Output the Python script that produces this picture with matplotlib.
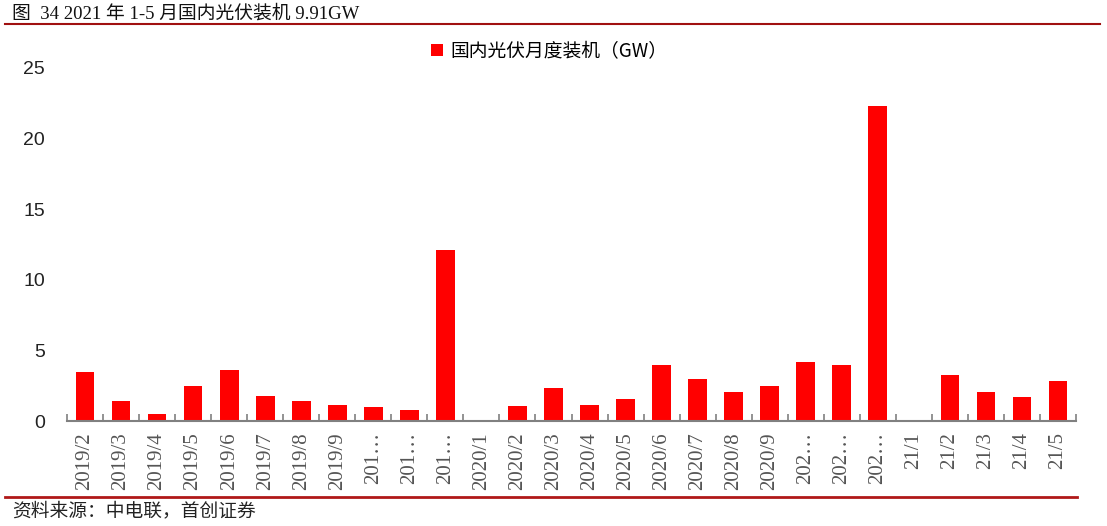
import matplotlib.pyplot as plt
import numpy as np

# monthly domestic PV installs (GW)
months = ["2019/2", "2019/3", "2019/4", "2019/5", "2019/6", "2019/7", "2019/8", "2019/9",
          "2019/10", "2019/11", "2019/12",
          "2020/1", "2020/2", "2020/3", "2020/4", "2020/5", "2020/6", "2020/7", "2020/8",
          "2020/9", "2020/10", "2020/11", "2020/12",
          "2021/1", "2021/2", "2021/3", "2021/4", "2021/5"]
installs = [3.5, 1.4, 0.5, 2.5, 3.6, 1.8, 1.45, 1.15,
            1.0, 0.8, 12.1,
            0.0, 1.05, 2.35, 1.1, 1.55, 4.0, 2.95, 2.05,
            2.5, 4.2, 4.0, 22.3,
            0.0, 3.25, 2.05, 1.7, 2.8]
# labels as they appear in the chart (long ones cut off, 2021 partly hidden)
tick_labels = ["2019/2", "2019/3", "2019/4", "2019/5", "2019/6", "2019/7", "2019/8", "2019/9",
               "201…", "201…", "201…",
               "2020/1", "2020/2", "2020/3", "2020/4", "2020/5", "2020/6", "2020/7", "2020/8",
               "2020/9", "202…", "202…", "202…",
               "21/1", "21/2", "21/3", "21/4", "21/5"]

cjk = ["Noto Sans CJK SC", "DejaVu Sans"]
serif_cjk = ["Liberation Serif", "Noto Sans CJK SC"]

fig = plt.figure(figsize=(11.07, 5.26), dpi=100)
ax = fig.add_axes([67 / 1107, 1 - 421 / 526, (1076 - 67) / 1107, (421 - 68) / 526])

x = np.arange(len(months))
ax.bar(x, installs, width=0.52, color="#ff0000", label="国内光伏月度装机（GW）")

ax.set_xlim(-0.5, len(months) - 0.5)
ax.set_ylim(0, 25)
ax.set_yticks([0, 5, 10, 15, 20, 25])
ax.tick_params(axis="y", length=0, labelsize=14, pad=16, colors="#222222")
for t in ax.get_yticklabels():
    t.set_family("Liberation Sans")

ax.set_xticks(x)
ax.set_xticklabels(tick_labels, rotation=90, family="Liberation Serif", fontsize=15, color="#555555")
ax.tick_params(axis="x", length=0, pad=8)
ax.set_xticks(np.arange(-0.5, len(months), 1), minor=True)
ax.tick_params(axis="x", which="minor", direction="in", length=5, color="#808080", width=1.2)

for s in ["top", "right", "left"]:
    ax.spines[s].set_visible(False)
ax.spines["bottom"].set_color("#808080")
ax.spines["bottom"].set_linewidth(1.5)

ax.legend(loc="upper center", bbox_to_anchor=(0.478, 1.125), frameon=False, prop={"family": cjk, "size": 13.5},
          handlelength=0.6, handleheight=0.6, handletextpad=0.4)

# title + rules
fig.text(12 / 1107, 1 - 14 / 526, "图  34 2021 年 1-5 月国内光伏装机 9.91GW", family=serif_cjk, fontsize=13.5,
         va="center", ha="left", color="#111111")
fig.add_artist(plt.Line2D([5 / 1107, 1100 / 1107], [1 - 24 / 526, 1 - 24 / 526], color="#a01010", lw=1.5))
fig.add_artist(plt.Line2D([5 / 1107, 1077 / 1107], [1 - 497 / 526, 1 - 497 / 526], color="#b01818", lw=2))
fig.text(12 / 1107, 1 - 511 / 526, "资料来源：中电联，首创证券", family=cjk, fontsize=13.5, style="italic",
         va="center", ha="left", color="#222222")

fig.savefig("out.png", dpi=100)
